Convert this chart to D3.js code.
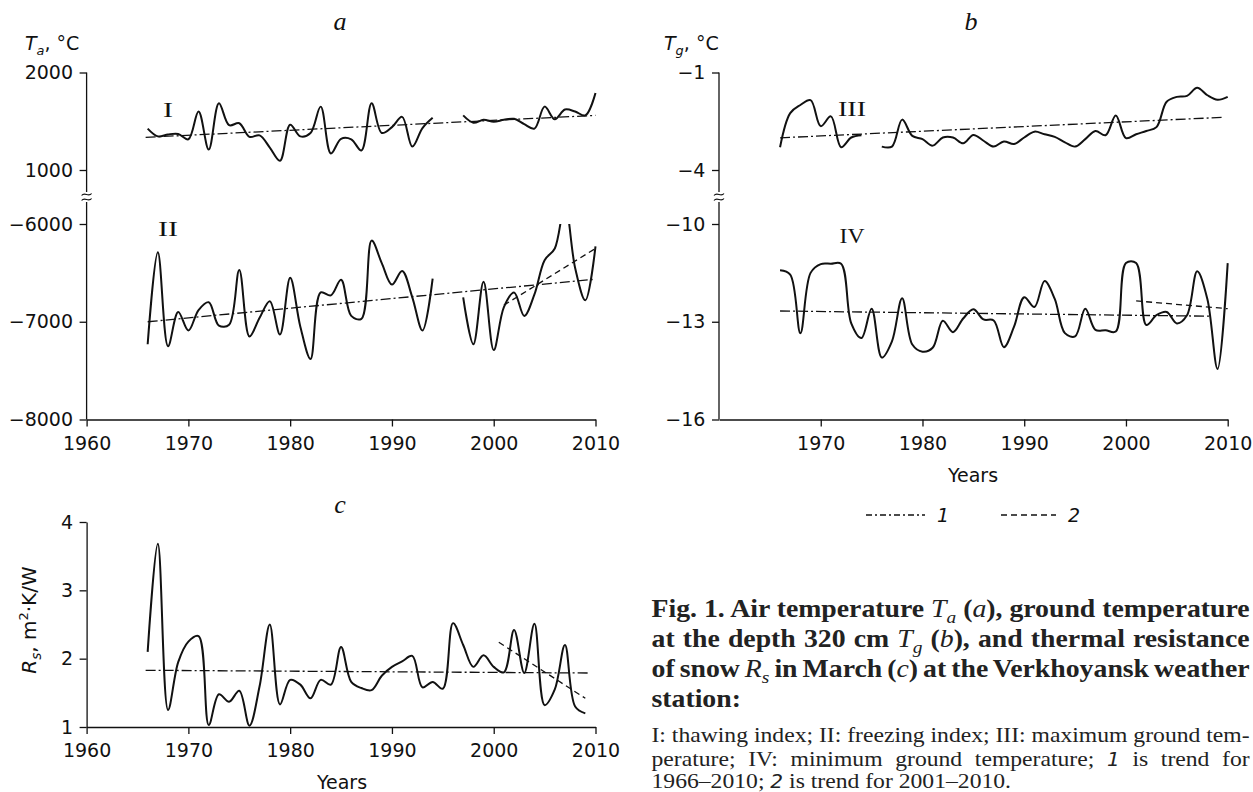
<!DOCTYPE html>
<html><head><meta charset="utf-8">
<script src="https://cdn.jsdelivr.net/npm/d3@7"></script>
<style>body{margin:0;background:#fff}svg{display:block}</style>
</head><body>
<script>
// ---------- DATA ----------
const years = d3.range(1966, 2011);          // 1966..2010
const rsYears = d3.range(1966, 2010);        // 1966..2009
const xTicksA = [1960, 1970, 1980, 1990, 2000, 2010];
const xTicksB = [1970, 1980, 1990, 2000, 2010];
const yTicksAtop = [1000, 2000];
const yTicksAbot = [-8000, -7000, -6000];
const yTicksBtop = [-4, -1];
const yTicksBbot = [-16, -13, -10];
const yTicksC = [1, 2, 3, 4];

// I: thawing index (panel a, upper)
const thawI = [1425,1345,1365,1370,1315,1600,1210,1685,1460,1480,
               1340,1355,1230,1095,1465,1345,1380,1650,1170,1320,
               1315,1200,1685,1380,1440,1545,1240,1430,1535,null,
               null,1560,1485,1515,1495,1515,1525,1470,1425,1650,
               1520,1620,1600,1560,1790];
// II: freezing index (panel a, lower)
const freezeII = [-7230,-6290,-7250,-6900,-7090,-6880,-6800,-7040,-7030,-6470,
                  -7150,-6960,-6790,-7130,-6550,-7050,-7380,-6700,-6730,-6570,
                  -6940,-6970,-6170,-6400,-6620,-6480,-6750,-7090,-6560,null,
                  null,-6750,-7230,-6590,-7290,-6850,-6700,-6940,-6720,-6370,
                  -6250,-5800,-6450,-6780,-6230];
// III: maximum ground temperature (panel b, upper)
const tgMaxIII = [-3.30,-2.25,-2.00,-1.85,-2.65,-2.35,-3.30,-3.00,-2.93,null,
                  -3.28,-3.28,-2.45,-2.95,-3.05,-3.25,-3.00,-3.00,-3.18,-2.92,
                  -3.10,-3.28,-3.12,-3.20,-3.00,-2.82,-2.90,-2.98,-3.15,-3.28,
                  -3.05,-2.80,-2.93,-2.32,-3.02,-2.90,-2.80,-2.68,-1.90,-1.75,
                  -1.72,-1.47,-1.70,-1.84,-1.75];
// IV: minimum ground temperature (panel b, lower)
const tgMinIV = [-11.42,-11.55,-13.35,-11.50,-11.23,-11.22,-11.22,-13.05,-13.50,-12.60,
                 -14.10,-13.60,-12.28,-13.70,-13.92,-13.80,-12.97,-13.32,-12.90,-12.62,
                 -12.93,-12.96,-13.78,-13.15,-12.25,-12.55,-11.75,-12.30,-13.35,-13.45,
                 -12.60,-13.25,-13.26,-13.30,-11.20,-11.20,-13.10,-12.80,-12.70,-13.05,
                 -12.80,-11.45,-12.30,-14.45,-11.20];
// Rs: thermal resistance of snow in March (panel c)
const rsVals = [2.10,3.68,1.25,1.95,2.25,2.33,1.03,1.48,1.37,1.53,
                1.02,1.60,2.50,1.33,1.69,1.62,1.42,1.69,1.62,2.17,
                1.66,1.57,1.54,1.75,1.88,1.96,2.04,1.58,1.66,1.56,
                2.52,2.20,1.88,2.05,1.88,1.80,2.42,1.79,2.51,1.32,
                1.55,2.20,1.30,1.20];
// trends: [start year, end year] and [start value, end value]
const trend1IYears = [1965.8, 2010],   trend1IVals = [1335, 1560];
const trend1IIYears = [1966, 2010],    trend1IIVals = [-7000, -6565];
const trend2IIYears = [2001, 2010],    trend2IIVals = [-6830, -6250];
const trend1IIIYears = [1966, 2009.5], trend1IIIVals = [-3.01, -2.38];
const trend1IVYears = [1966, 2008.2],  trend1IVVals = [-12.67, -12.83];
const trend2IVYears = [2001, 2010],    trend2IVVals = [-12.36, -12.60];
const trend1RsYears = [1965.8, 2009.5], trend1RsVals = [1.83, 1.79];
const trend2RsYears = [2000.5, 2009],  trend2RsVals = [2.24, 1.42];

// ---------- SETUP ----------
const W = 1253, H = 792;
const SANS = "'DejaVu Sans', sans-serif";
const SERIF = "'Liberation Serif', 'Times New Roman', serif";
const INK = "#111";
const DASHDOT = "10,3,2,3";
const DASHED = "6,4";

const svg = d3.select("body").append("svg").attr("width", W).attr("height", H);
svg.append("rect").attr("width", W).attr("height", H).attr("fill", "#fff");

const zip = (xs, vs) => xs.map((x, i) => [x, vs[i]]);
const lineGen = (x, y) => d3.line().defined(d => d[1] != null)
  .x(d => x(d[0])).y(d => y(d[1])).curve(d3.curveCatmullRom.alpha(0.5));
const straight = (x, y) => d3.line().x(d => x(d[0])).y(d => y(d[1]));

function styleAxis(g) {
  g.selectAll("line").attr("stroke", INK).attr("stroke-width", 1.3);
  g.selectAll("path.domain").attr("stroke", INK).attr("stroke-width", 1.3);
  g.selectAll("text").attr("font-family", SANS).attr("font-size", 19).attr("fill", INK);
}
function xAxis(x, y, ticks) {
  const g = svg.append("g").attr("transform", `translate(0,${y})`)
    .call(d3.axisBottom(x).tickValues(ticks).tickSize(7).tickSizeOuter(0).tickPadding(10).tickFormat(d3.format("d")));
  styleAxis(g);
}
function splitYAxis(x0, yTop, yBot, topTicks, botTicks) {
  const g = svg.append("g");
  [[yTop, topTicks], [yBot, botTicks]].forEach(([s, t]) => {
    const a = g.append("g").attr("transform", `translate(${x0},0)`)
      .call(d3.axisLeft(s).tickValues(t).tickSize(7).tickPadding(6.6).tickFormat(d3.format("d")));
    a.select(".domain").remove();
    styleAxis(a);
  });
  const yb = (yTop.range()[0] + yBot.range()[1]) / 2;
  g.append("line").attr("x1", x0).attr("x2", x0).attr("y1", yTop.range()[1]).attr("y2", yb - 5)
    .attr("stroke", INK).attr("stroke-width", 1.3);
  g.append("line").attr("x1", x0).attr("x2", x0).attr("y1", yb + 5).attr("y2", yBot.range()[0])
    .attr("stroke", INK).attr("stroke-width", 1.3);
  [yb - 2.5, yb + 2.5].forEach(yy => {
    g.append("path").attr("d", `M${x0-5},${yy+1} C${x0-2},${yy-3} ${x0+2},${yy+3} ${x0+5},${yy-1}`)
      .attr("fill", "none").attr("stroke", INK).attr("stroke-width", 1.1);
  });
}
function drawSeries(x, y, data, clip) {
  const p = svg.append("path").datum(data).attr("d", lineGen(x, y))
    .attr("fill", "none").attr("stroke", INK).attr("stroke-width", 2).attr("stroke-linejoin", "round");
  if (clip) p.attr("clip-path", `url(#${clip})`);
}
function drawTrend(x, y, yrs, vals, dash) {
  svg.append("path").datum(zip(yrs, vals)).attr("d", straight(x, y))
    .attr("fill", "none").attr("stroke", INK).attr("stroke-width", 1.3).attr("stroke-dasharray", dash);
}
function text(x, y, str, opts = {}) {
  const t = svg.append("text").attr("x", x).attr("y", y).text(str)
    .attr("font-family", opts.family || SANS).attr("font-size", opts.size || 19).attr("fill", INK);
  if (opts.anchor) t.attr("text-anchor", opts.anchor);
  if (opts.italic) t.attr("font-style", "italic");
  if (opts.weight) t.attr("font-weight", opts.weight);
  if (opts.len) t.attr("textLength", opts.len).attr("lengthAdjust", "spacingAndGlyphs");
  return t;
}
function axisTitle(x, y, main, sub, rest, opts = {}) {
  const size = opts.size || 19;
  const t = svg.append("text").attr("x", x).attr("y", y)
    .attr("font-family", SANS).attr("font-size", size).attr("fill", INK);
  if (opts.rotate) t.attr("transform", `rotate(-90,${x},${y})`).attr("text-anchor", "middle");
  t.append("tspan").attr("font-style", "italic").text(main);
  t.append("tspan").attr("font-style", "italic").attr("font-size", size * 0.68).attr("dy", 5).text(sub);
  let first = true;
  rest.forEach(([s, sup]) => {
    const sp = t.append("tspan").text(s);
    if (sup) sp.attr("font-size", size * 0.65).attr("dy", first ? -13 : -8);
    else sp.attr("dy", first ? -5 : 8);
    first = false;
  });
  return t;
}

// ---------- PANEL a ----------
const xA = d3.scaleLinear().domain([1960, 2010]).range([86.6, 595.5]);
const yAtop = d3.scaleLinear().domain([1000, 2000]).range([170, 72.5]);
const yAbot = d3.scaleLinear().domain([-8000, -6000]).range([419.5, 224]);
svg.append("clipPath").attr("id", "clipA").append("rect")
  .attr("x", xA.range()[0]).attr("y", yAbot(-6000)).attr("width", xA.range()[1] - xA.range()[0] + 10)
  .attr("height", yAbot(-8000) - yAbot(-6000));
splitYAxis(xA.range()[0], yAtop, yAbot, yTicksAtop, yTicksAbot);
xAxis(xA, yAbot.range()[0], xTicksA);
drawTrend(xA, yAtop, trend1IYears, trend1IVals, DASHDOT);
drawTrend(xA, yAbot, trend1IIYears, trend1IIVals, DASHDOT);
drawTrend(xA, yAbot, trend2IIYears, trend2IIVals, DASHED);
drawSeries(xA, yAtop, zip(years, thawI));
drawSeries(xA, yAbot, zip(years, freezeII), "clipA");
text(340, 30, "a", {family: SERIF, italic: true, size: 26, anchor: "middle"});
axisTitle(25, 50, "T", "a", [[", °C"]]);
text(168, 117, "I", {family: SERIF, size: 20, anchor: "middle", len: 10});
text(168, 236, "II", {family: SERIF, size: 20, anchor: "middle", len: 20});

// ---------- PANEL b ----------
const xB = d3.scaleLinear().domain([1960, 2010]).range([719, 1227.7]);
const yBtop = d3.scaleLinear().domain([-4, -1]).range([170, 72.5]);
const yBbot = d3.scaleLinear().domain([-16, -10]).range([419.5, 224]);
splitYAxis(xB.range()[0], yBtop, yBbot, yTicksBtop, yTicksBbot);
xAxis(xB, yBbot.range()[0], xTicksB);
drawTrend(xB, yBtop, trend1IIIYears, trend1IIIVals, DASHDOT);
drawTrend(xB, yBbot, trend1IVYears, trend1IVVals, DASHDOT);
drawTrend(xB, yBbot, trend2IVYears, trend2IVVals, DASHED);
drawSeries(xB, yBtop, zip(years, tgMaxIII));
drawSeries(xB, yBbot, zip(years, tgMinIV));
text(971, 30, "b", {family: SERIF, italic: true, size: 26, anchor: "middle"});
axisTitle(664, 50, "T", "g", [[", °C"]]);
text(852, 116, "III", {family: SERIF, size: 20, anchor: "middle", len: 28});
text(852, 243, "IV", {family: SERIF, size: 20, anchor: "middle", len: 25});
text(973, 482, "Years", {anchor: "middle"});

// legend
const legY = 515;
svg.append("line").attr("x1", 866).attr("x2", 925).attr("y1", legY).attr("y2", legY)
  .attr("stroke", INK).attr("stroke-width", 1.3).attr("stroke-dasharray", "6,3,2,3");
text(937, legY + 7, "1", {italic: true});
svg.append("line").attr("x1", 1001).attr("x2", 1056).attr("y1", legY).attr("y2", legY)
  .attr("stroke", INK).attr("stroke-width", 1.3).attr("stroke-dasharray", "6,4");
text(1068, legY + 7, "2", {italic: true});

// ---------- PANEL c ----------
const xC = d3.scaleLinear().domain([1960, 2010]).range([86.6, 595.5]);
const yC = d3.scaleLinear().domain([1, 4]).range([727, 522]);
const gyc = svg.append("g").attr("transform", `translate(${xC.range()[0]},0)`)
  .call(d3.axisLeft(yC).tickValues(yTicksC).tickSize(7).tickSizeOuter(0).tickPadding(6.6).tickFormat(d3.format("d")));
styleAxis(gyc);
xAxis(xC, yC.range()[0], xTicksA);
drawTrend(xC, yC, trend1RsYears, trend1RsVals, DASHDOT);
drawTrend(xC, yC, trend2RsYears, trend2RsVals, DASHED);
drawSeries(xC, yC, zip(rsYears, rsVals));
text(340, 513, "c", {family: SERIF, italic: true, size: 26, anchor: "middle"});
axisTitle(36, 620, "R", "s", [[", m"], ["2", true], ["·K/W"]], {rotate: true, size: 20});
text(342, 789, "Years", {anchor: "middle"});

// ---------- CAPTION ----------
const capX = 651.5, capRight = 1250;
function capLine(y, parts, size, weight) {
  const t = svg.append("text").attr("x", 0).attr("y", 0)
    .attr("font-family", SERIF).attr("font-size", size).attr("font-weight", weight).attr("fill", "#222")
    .attr("data-y", y);
  parts.forEach(p => {
    const s = t.append("tspan").text(p.t);
    if (p.i) s.attr("font-style", "italic").attr("font-weight", "normal");
    if (p.sub) s.attr("font-size", size * 0.7).attr("dy", 6);
    if (p.up) s.attr("dy", -6);
    if (p.sans) s.attr("font-family", SANS).attr("font-size", size * 0.85);
  });
  return t;
}
// horizontally stretch a block so its first line fills the column, and justify the other lines
function justifyBlock(lines, justifyCount) {
  const target = capRight - capX;
  const L0 = lines[0].node().getComputedTextLength();
  const sx = target / L0;
  lines.forEach((t, i) => {
    if (i > 0 && i < justifyCount) {
      const L = t.node().getComputedTextLength();
      const spaces = (t.text().match(/ /g) || []).length;
      if (spaces) t.attr("word-spacing", (L0 - L) / spaces);
    }
    t.attr("transform", `translate(${capX},${t.attr("data-y")}) scale(${sx},1)`);
  });
}
const bold = [
  capLine(617, [{t: "Fig. 1. Air temperature "}, {t: "T", i: 1}, {t: "a", i: 1, sub: 1}, {t: " (", up: 1}, {t: "a", i: 1}, {t: "), ground temperature"}], 25, "bold"),
  capLine(647, [{t: "at the depth 320 cm "}, {t: "T", i: 1}, {t: "g", i: 1, sub: 1}, {t: " (", up: 1}, {t: "b", i: 1}, {t: "), and thermal resistance"}], 25, "bold"),
  capLine(677, [{t: "of snow "}, {t: "R", i: 1}, {t: "s", i: 1, sub: 1}, {t: " in March (", up: 1}, {t: "c", i: 1}, {t: ") at the Verkhoyansk weather"}], 25, "bold"),
  capLine(707, [{t: "station:"}], 25, "bold")
];
justifyBlock(bold, 3);
const notes = [
  capLine(742, [{t: "I: thawing index; II: freezing index; III: maximum ground tem-"}], 22, "normal"),
  capLine(766, [{t: "perature; IV: minimum ground temperature; "}, {t: "1", i: 1, sans: 1}, {t: " is trend for"}], 22, "normal"),
  capLine(788, [{t: "1966–2010; "}, {t: "2", i: 1, sans: 1}, {t: " is trend for 2001–2010."}], 22, "normal")
];
justifyBlock(notes, 2);
</script>
</body></html>
